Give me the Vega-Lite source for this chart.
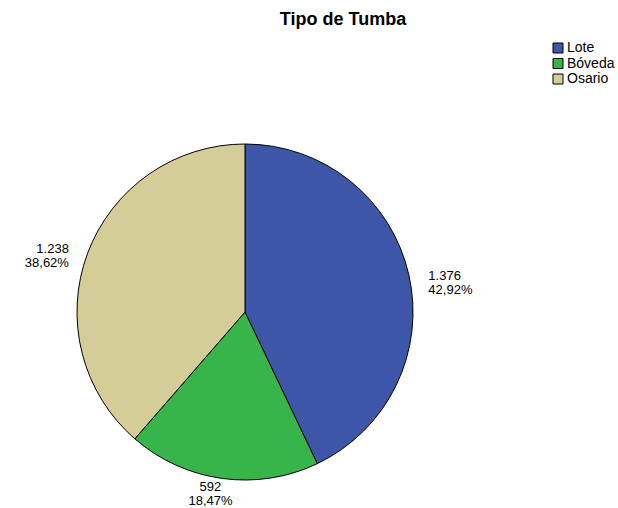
{
  "$schema": "https://vega.github.io/schema/vega-lite/v6.json",
  "autosize": {"type": "none"},
  "width": 336,
  "height": 336,
  "padding": {"left": 77, "top": 144, "right": 205, "bottom": 28},
  "background": "white",
  "title": {"text": "Tipo de Tumba", "font": "Liberation Sans", "fontSize": 18, "fontWeight": "bold", "color": "black", "anchor": "middle", "dx": 98, "offset": 12},
  "data": {"values": [
    {"tipo": "Lote", "n": 1376, "orden": 1, "etiqueta": ["1.376", "42,92%"]},
    {"tipo": "Bóveda", "n": 592, "orden": 2, "etiqueta": ["592", "18,47%"]},
    {"tipo": "Osario", "n": 1238, "orden": 3, "etiqueta": ["1.238", "38,62%"]}
  ]},
  "config": {"view": {"stroke": null}, "font": "Liberation Sans"},
  "layer": [
    {
      "mark": {"type": "arc", "outerRadius": 168, "stroke": "black", "strokeWidth": 1},
      "encoding": {
        "theta": {"field": "n", "type": "quantitative", "stack": true},
        "order": {"field": "orden", "type": "quantitative"},
        "color": {"field": "tipo", "type": "nominal",
          "scale": {"domain": ["Lote", "Bóveda", "Osario"], "range": ["#3e56a8", "#38b54a", "#d4cd97"]},
          "legend": {"title": null, "orient": "none", "legendX": 474, "legendY": -103, "padding": 0, "symbolType": "square", "symbolSize": 100, "symbolStrokeColor": "black", "symbolStrokeWidth": 1, "symbolOpacity": 1, "labelFontSize": 14, "labelColor": "black", "labelFont": "Liberation Sans", "rowPadding": 1.5, "labelOffset": 2}
        }
      }
    },
    {
      "mark": {"type": "text", "radius": 188, "dy": 5, "align": "left", "fontSize": 13, "lineHeight": 14, "color": "black"},
      "encoding": {
        "theta": {"field": "n", "type": "quantitative", "stack": true},
        "order": {"field": "orden", "type": "quantitative"},
        "text": {"condition": {"test": "datum.tipo === 'Lote'", "field": "etiqueta"}, "value": ""}
      }
    },
    {
      "mark": {"type": "text", "radius": 182, "dx": -10, "dy": -5, "align": "center", "fontSize": 13, "lineHeight": 14, "color": "black"},
      "encoding": {
        "theta": {"field": "n", "type": "quantitative", "stack": true},
        "order": {"field": "orden", "type": "quantitative"},
        "text": {"condition": {"test": "datum.tipo === 'Bóveda'", "field": "etiqueta"}, "value": ""}
      }
    },
    {
      "mark": {"type": "text", "radius": 188, "dy": 3, "align": "right", "fontSize": 13, "lineHeight": 14, "color": "black"},
      "encoding": {
        "theta": {"field": "n", "type": "quantitative", "stack": true},
        "order": {"field": "orden", "type": "quantitative"},
        "text": {"condition": {"test": "datum.tipo === 'Osario'", "field": "etiqueta"}, "value": ""}
      }
    }
  ]
}
